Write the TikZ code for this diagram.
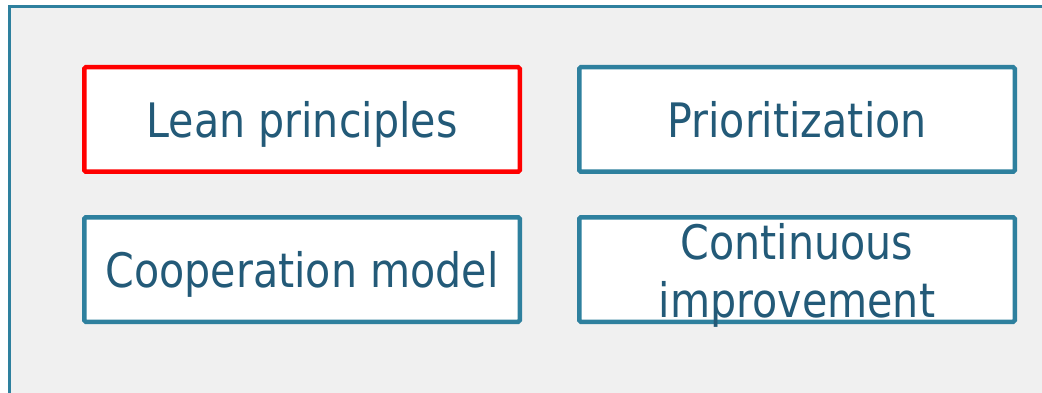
\documentclass[tikz,border=0pt]{standalone}
\usepackage{fontspec}
\setmainfont{DejaVu Sans}[FakeStretch=0.867]
\definecolor{panelfill}{HTML}{F0F0F0}
\definecolor{teal}{HTML}{2E809E}
\definecolor{txt}{HTML}{235A78}
\definecolor{hired}{HTML}{FF0000}
\begin{document}
\begin{tikzpicture}[x=1pt,y=-1pt,
  box/.style={draw=teal,line width=4.5pt,fill=white,rounded corners=1.5pt,
    minimum width=435.5pt,minimum height=104.5pt,inner sep=0pt},
  lbl/.style={text=txt,font=\fontsize{47.5}{58}\selectfont,inner sep=0pt,anchor=base}]
\useasboundingbox (0,0) rectangle (1042,393);
\fill[panelfill] (9,7) rectangle (1042,393);
\draw[teal,line width=3pt] (9,393) -- (9,7) -- (1042,7);
\node[box,draw=hired] (lean) at (302,119.5) {};
\node[box] (prio) at (797,119.5) {};
\node[box] (coop) at (302,269.5) {};
\node[box] (cont) at (797,269.5) {};
\node[lbl] (leant) at (302,137.5) {Lean principles};
\node[lbl] (priot) at (797,137.5) {Prioritization};
\node[lbl] (coopt) at (302,287.5) {Cooperation model};
\node[lbl] (cont1) at (797,259) {Continuous};
\node[lbl] (cont2) at (797,317) {improvement};
\end{tikzpicture}
\end{document}
